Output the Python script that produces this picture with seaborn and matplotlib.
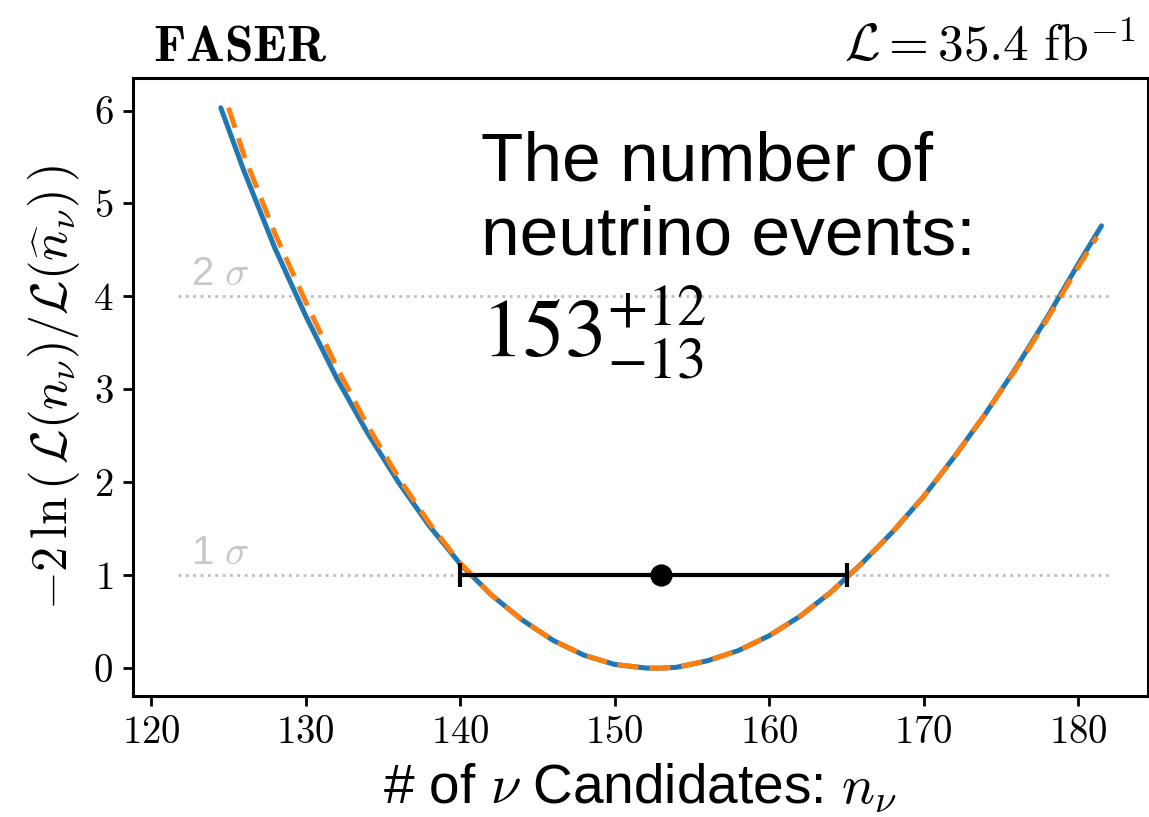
import matplotlib
matplotlib.use("Agg")
import matplotlib.pyplot as plt
import pandas as pd
import seaborn as sns

# Profile likelihood scan of the neutrino yield
n_nu = [124.5, 126, 128, 130, 132, 134, 136, 138, 140, 142, 144, 146, 148, 150,
        152, 153, 154, 156, 158, 160, 162, 164, 166, 168, 170, 172, 174, 176,
        178, 180, 181.5]
nll_profile = [6.03, 5.35, 4.52, 3.79, 3.12, 2.53, 2.00, 1.53, 1.12, 0.79, 0.52,
               0.30, 0.14, 0.04, 0.002, 0.0, 0.01, 0.08, 0.19, 0.35, 0.56, 0.82,
               1.13, 1.47, 1.85, 2.28, 2.74, 3.24, 3.78, 4.35, 4.76]

# Approximate (Poisson-only) scan
n_nu_approx = [125, 126, 128, 130, 132, 134, 136, 138, 140, 142, 144, 146, 148,
               150, 152, 153, 154, 156, 158, 160, 162, 164, 166, 168, 170, 172,
               174, 176, 178, 180, 181.2]
nll_approx = [6.03, 5.52, 4.68, 3.94, 3.24, 2.61, 2.05, 1.56, 1.13, 0.79, 0.52,
              0.30, 0.14, 0.04, 0.002, 0.0, 0.01, 0.08, 0.19, 0.35, 0.56, 0.82,
              1.13, 1.47, 1.85, 2.28, 2.74, 3.23, 3.76, 4.32, 4.64]

best_fit = 153
err_down = 13
err_up = 12
sigma_levels = [1, 4]
sigma_labels = ["1", "2"]

profile = pd.DataFrame({"n": n_nu, "nll": nll_profile})
approx = pd.DataFrame({"n": n_nu_approx, "nll": nll_approx})

sns.set_style("ticks")
plt.rcParams["font.family"] = ["serif"]
plt.rcParams["font.serif"] = ["cmr10", "DejaVu Serif"]
plt.rcParams["mathtext.fontset"] = "cm"
plt.rcParams["axes.formatter.use_mathtext"] = True
plt.rcParams["axes.unicode_minus"] = True
for key in ["text.color", "axes.labelcolor", "xtick.color", "ytick.color",
            "axes.edgecolor"]:
    plt.rcParams[key] = "black"

fig = plt.figure(figsize=(1149 / 200, 817 / 200), dpi=200)
ax = fig.add_axes([0.1155, 0.148, 0.8835, 0.7565])

# 1 and 2 sigma reference lines
for lvl, lab in zip(sigma_levels, sigma_labels):
    ax.hlines(lvl, 121.7, 182.0, colors="#bdbdbd", linestyles=":", linewidth=1.0,
              zorder=1)
    ax.text(122.6, lvl + 0.04, lab + r" $\sigma$", color="#c8c8c8", fontsize=14.5,
            family="Liberation Sans", ha="left", va="bottom")

sns.lineplot(data=profile, x="n", y="nll", ax=ax, color="#1f77b4", linewidth=1.8,
             zorder=3, sort=False)
sns.lineplot(data=approx, x="n", y="nll", ax=ax, color="#ff7f0e", linewidth=1.8,
             dashes=False, zorder=4, sort=False)
ax.lines[-1].set_dashes((4.2, 2.2))

ax.errorbar([best_fit], [1], xerr=[[err_down], [err_up]], fmt="o", color="black",
            markersize=7, elinewidth=1.5, capsize=4.2, capthick=1.5, zorder=5)

ax.set_xlim(118.8, 184.5)
ax.set_ylim(-0.3, 6.35)
ax.set_xticks([120, 130, 140, 150, 160, 170, 180])
ax.set_yticks([0, 1, 2, 3, 4, 5, 6])
ax.tick_params(labelsize=14, width=1.0, length=3.5, color="black")
for sp in ax.spines.values():
    sp.set_linewidth(1.1)

ax.set_xlabel(r"# of $\nu$ Candidates: $n_\nu$", family="Liberation Sans",
              fontsize=19.8, labelpad=4)
ax.set_ylabel(r"$-2\,\ln\left(\,\mathcal{L}(n_\nu)/\mathcal{L}(\widehat{n}_\nu)\,\right)$",
              fontsize=18, labelpad=4)

ax.text(0.02, 1.012, r"$\mathbf{FASER}$", transform=ax.transAxes, fontsize=18.5,
        ha="left", va="bottom")
ax.text(0.988, 1.012, r"$\mathcal{L} = 35.4\ \mathrm{fb}^{-1}$",
        transform=ax.transAxes, fontsize=18.5, ha="right", va="bottom")

ax.text(0.343, 0.915, "The number of\nneutrino events:", transform=ax.transAxes,
        family="Liberation Sans", fontsize=25, ha="left", va="top",
        linespacing=1.2)
ax.text(0.343, 0.55, r"$153^{+12}_{-13}$", transform=ax.transAxes,
        fontsize=30, ha="left", va="baseline", math_fontfamily="stix")

fig.savefig("out.png", dpi=200)
